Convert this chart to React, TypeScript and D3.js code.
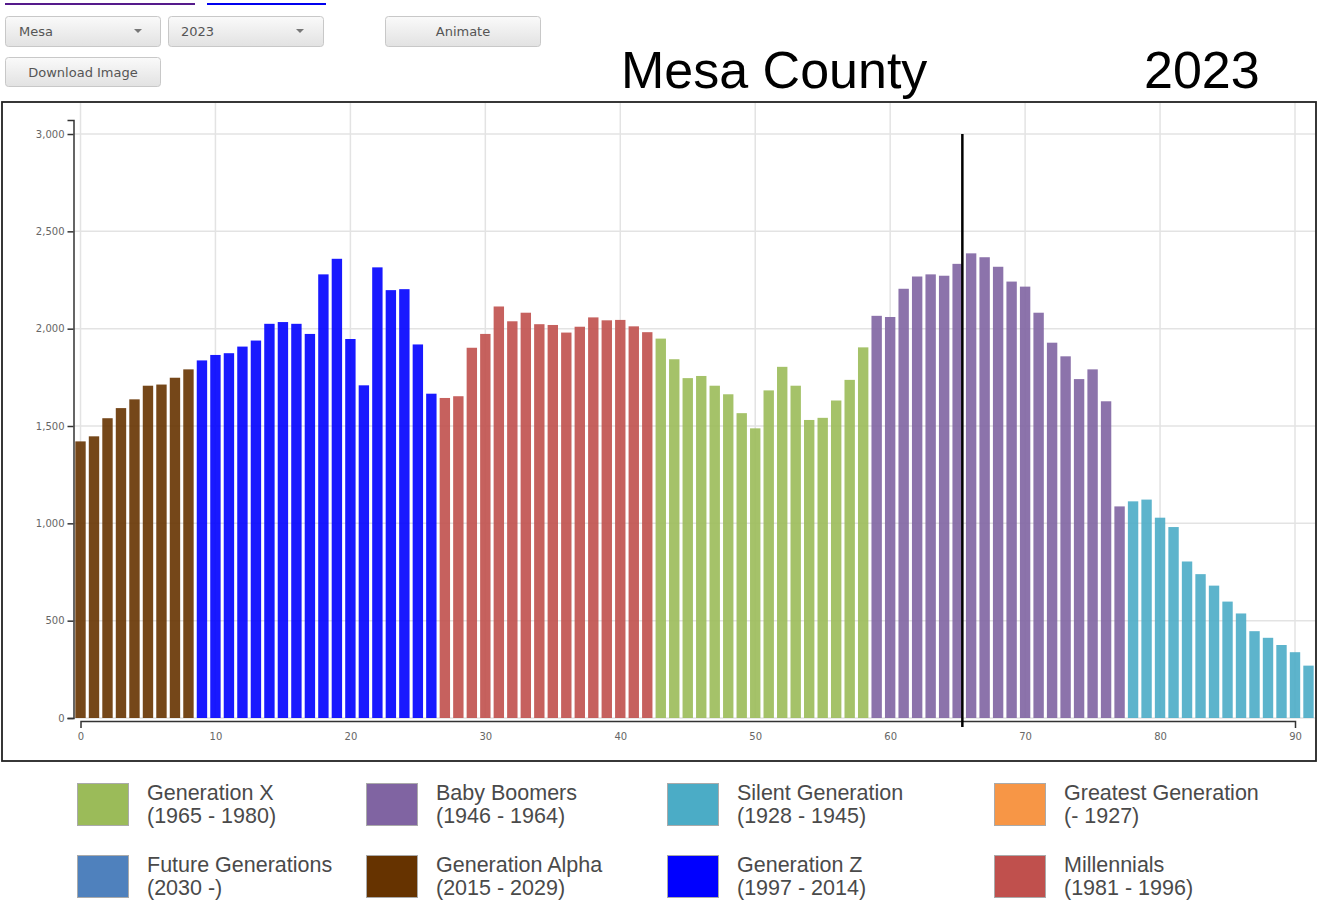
import React, { useEffect, useRef } from "react";
import * as d3 from "d3";

// ---------- data ----------
const countyName = "Mesa County";
const selectedCounty = "Mesa";
const dataYear = 2023;
const markerAge = 65.35;

// population by single year of age, starting at age 0
const population = [
  1421, 1447, 1540, 1592, 1637, 1707, 1713, 1748, 1791,
  1837, 1865, 1874, 1908, 1939, 2025, 2034, 2025, 1973, 2279, 2359, 1947, 1709, 2315, 2198, 2203, 1919, 1666,
  1644, 1653, 1902, 1973, 2114, 2038, 2082, 2023, 2019, 1980, 2010, 2058, 2043, 2045, 2012, 1982,
  1949, 1843, 1746, 1757, 1707, 1663, 1566, 1488, 1683, 1804, 1707, 1531, 1542, 1631, 1737, 1904,
  2066, 2060, 2205, 2268, 2279, 2272, 2333, 2387, 2367, 2318, 2242, 2216, 2082, 1928, 1858, 1741, 1791, 1627, 1087,
  1113, 1122, 1029, 981, 804, 739, 680, 598, 537, 446, 412, 375, 338, 269,
];

const genNames = [
  "Generation X", "Baby Boomers", "Silent Generation", "Greatest Generation",
  "Future Generations", "Generation Alpha", "Generation Z", "Millennials",
];
const genYearLabels = [
  "(1965 - 1980)", "(1946 - 1964)", "(1928 - 1945)", "(- 1927)",
  "(2030 -)", "(2015 - 2029)", "(1997 - 2014)", "(1981 - 1996)",
];
const genBirthStart = [1965, 1946, 1928, 0, 2030, 2015, 1997, 1981];
const genBirthEnd = [1980, 1964, 1945, 1927, 9999, 2029, 2014, 1996];
const genColors = [
  "#9BBB59", "#8064A2", "#4BACC6", "#F79646",
  "#4F81BD", "#663300", "#0000FF", "#C0504D",
];

const yTicks = [0, 500, 1000, 1500, 2000, 2500, 3000];
const xTicks = [0, 10, 20, 30, 40, 50, 60, 70, 80, 90];

// ---------- layout ----------
const W = 1330;
const H = 906;
const plotTop = 120;
const baseY = 718;
const yMax = 3072;

function colorForAge(age: number) {
  const birth = dataYear - age;
  for (let i = 0; i < genNames.length; i++) {
    if (birth >= genBirthStart[i] && birth <= genBirthEnd[i]) return genColors[i];
  }
  return "#999";
}

export default function App() {
  const yAxisRef = useRef<SVGGElement>(null);
  const xAxisRef = useRef<SVGGElement>(null);

  const x = d3.scaleLinear().domain([0, 90]).range([80.5, 1295]);
  const y = d3.scaleLinear().domain([0, yMax]).range([baseY, plotTop]);
  const step = x(1) - x(0);
  const barW = step * 0.77;
  const fmt = d3.format(",");

  useEffect(() => {
    if (yAxisRef.current) {
      const g = d3.select(yAxisRef.current);
      g.selectAll("*").remove();
      g.call(d3.axisLeft(y).tickValues(yTicks).tickFormat((d: any) => fmt(d)).tickSize(6));
      g.selectAll("path,line").attr("stroke", "#333").attr("stroke-width", 1.5);
      g.selectAll("text").attr("fill", "#666").attr("font-size", 10).attr("font-family", "DejaVu Sans, Verdana, sans-serif");
    }
    if (xAxisRef.current) {
      const g = d3.select(xAxisRef.current);
      g.selectAll("*").remove();
      g.call(
        d3.axisBottom(x).tickValues(xTicks).tickFormat((d: any) => String(d))
          .tickSizeInner(0).tickSizeOuter(7).tickPadding(12)
      );
      g.selectAll("path,line").attr("stroke", "#333").attr("stroke-width", 1.5);
      g.selectAll("text").attr("fill", "#666").attr("font-size", 10).attr("font-family", "DejaVu Sans, Verdana, sans-serif");
    }
  }, []);

  const ctrlFont = "DejaVu Sans, Verdana, sans-serif";
  const legendCols = [77, 366, 667, 994];
  const legendRows = [783, 855];

  return (
    <div style={{ position: "absolute", left: 0, top: 0 }}>
      <svg width={W} height={H} style={{ display: "block", background: "#fff" }}>
        <defs>
          <linearGradient id="btnGrad" x1="0" y1="0" x2="0" y2="1">
            <stop offset="0%" stopColor="#fafafa" />
            <stop offset="100%" stopColor="#e2e2e2" />
          </linearGradient>
        </defs>

        {/* cut-off links at top */}
        <line x1={5} x2={195} y1={4} y2={4} stroke="#551A8B" strokeWidth={2} />
        <line x1={207} x2={326} y1={4} y2={4} stroke="#0000EE" strokeWidth={2} />

        {/* controls */}
        <rect x={5.5} y={16.5} width={155} height={30} rx={3} fill="url(#btnGrad)" stroke="#c8c8c8" />
        <text x={19} y={36} fontFamily={ctrlFont} fontSize={13} fill="#555">{selectedCounty}</text>
        <path d="M134,29 L142,29 L138,33 Z" fill="#777" />
        <rect x={168.5} y={16.5} width={155} height={30} rx={3} fill="url(#btnGrad)" stroke="#c8c8c8" />
        <text x={181} y={36} fontFamily={ctrlFont} fontSize={13} fill="#555">{dataYear}</text>
        <path d="M296,29 L304,29 L300,33 Z" fill="#777" />
        <rect x={385.5} y={16.5} width={155} height={30} rx={3} fill="url(#btnGrad)" stroke="#c8c8c8" />
        <text x={463} y={36} textAnchor="middle" fontFamily={ctrlFont} fontSize={13} fill="#555">Animate</text>
        <rect x={5.5} y={57.5} width={155} height={29} rx={3} fill="url(#btnGrad)" stroke="#c8c8c8" />
        <text x={83} y={77} textAnchor="middle" fontFamily={ctrlFont} fontSize={13} fill="#555">Download Image</text>

        {/* title */}
        <text x={621} y={88} fontFamily="Liberation Sans, Arial, sans-serif" fontSize={52} fill="#000">{countyName}</text>
        <text x={1144} y={88} fontFamily="Liberation Sans, Arial, sans-serif" fontSize={52} fill="#000">{dataYear}</text>

        {/* chart frame */}
        <rect x={2} y={102} width={1314} height={659} fill="#fff" stroke="#222" strokeWidth={1.8} />

        {/* grid */}
        <g>
          {yTicks.map((t) => (
            <line key={"gy" + t} x1={74} x2={1315} y1={y(t)} y2={y(t)} stroke="#e3e3e3" strokeWidth={1.5} />
          ))}
          {xTicks.map((t) => (
            <line key={"gx" + t} x1={x(t)} x2={x(t)} y1={103} y2={baseY} stroke="#e3e3e3" strokeWidth={1.5} />
          ))}
        </g>

        {/* bars */}
        <g>
          {population.map((v, age) => (
            <rect
              key={age}
              x={x(age) - barW / 2}
              y={y(v)}
              width={barW}
              height={baseY - y(v)}
              fill={colorForAge(age)}
              fillOpacity={0.9}
            />
          ))}
        </g>

        {/* axes */}
        <g ref={yAxisRef} transform="translate(73.5,0)" />
        <g ref={xAxisRef} transform={`translate(0,${baseY + 3})`} />

        {/* marker line */}
        <line x1={x(markerAge)} x2={x(markerAge)} y1={y(3000)} y2={baseY + 9} stroke="#000" strokeWidth={2.5} />

        {/* legend */}
        <g fontFamily="Liberation Sans, Arial, sans-serif" fontSize={21.5} fill="#4a4a4a">
          {genNames.map((name, i) => {
            const col = i % 4;
            const row = Math.floor(i / 4);
            const lx = legendCols[col];
            const ly = legendRows[row];
            return (
              <g key={name}>
                <rect x={lx + 0.5} y={ly + 0.5} width={51} height={42} fill={genColors[i]} stroke="#aaa" strokeWidth={1} />
                <text x={lx + 70} y={ly + 17}>{name}</text>
                <text x={lx + 70} y={ly + 40}>{genYearLabels[i]}</text>
              </g>
            );
          })}
        </g>
      </svg>
    </div>
  );
}
